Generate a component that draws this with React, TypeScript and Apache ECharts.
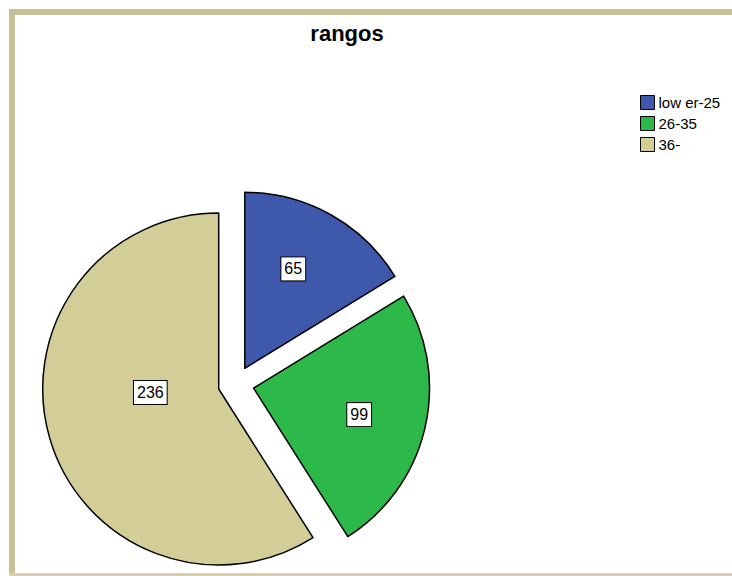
import React, { useEffect, useRef } from "react";
import * as echarts from "echarts";

const categories = ["low er-25", "26-35", "36-"];
const counts = [65, 99, 236];
const colors = ["#3e58ac", "#2db84a", "#d3ce97"];
const labelNudges = [
  [4, -20],
  [17, 6],
  [19, -22],
];

export default function App() {
  const ref = useRef<HTMLDivElement>(null);
  useEffect(() => {
    const chart = echarts.init(ref.current!, null, { renderer: "svg" });
    chart.setOption({
      animation: false,
      backgroundColor: "#ffffff",
      textStyle: { fontFamily: "Liberation Sans, Arial, sans-serif" },
      title: {
        text: "rangos",
        left: 342,
        textAlign: "center",
        top: 17,
        textStyle: { fontSize: 22, fontWeight: "bold", color: "#000", fontFamily: "Liberation Sans, Arial, sans-serif" },
      },
      legend: {
        orient: "vertical",
        left: 635,
        top: 90,
        itemWidth: 14,
        itemHeight: 14,
        itemGap: 6,
        icon: "rect",
        selectedMode: false,
        itemStyle: { borderColor: "#000", borderWidth: 1 },
        textStyle: { fontSize: 15, color: "#000", padding: [0, 0, 0, -1], fontFamily: "Liberation Sans, Arial, sans-serif" },
        data: categories,
      },
      graphic: [
        { type: "rect", shape: { x: 9, y: 9, width: 723, height: 6 }, style: { fill: "#c8c096" }, silent: true },
        { type: "rect", shape: { x: 9, y: 9, width: 6, height: 566 }, style: { fill: "#c8c096" }, silent: true },
        { type: "rect", shape: { x: 9, y: 573, width: 723, height: 3 }, style: { fill: "#d6d0b0" }, silent: true },
      ],
      series: [
        {
          type: "pie",
          center: [236, 384],
          radius: 176,
          startAngle: 90,
          clockwise: true,
          selectedMode: "multiple",
          selectedOffset: 18,
          emphasis: { disabled: true },
          itemStyle: { borderColor: "#000", borderWidth: 1.5 },
          label: {
            show: true,
            position: "inside",
            formatter: "{c}",
            fontSize: 16,
            color: "#000",
            backgroundColor: "#fff",
            borderColor: "#000",
            borderWidth: 1,
            padding: [4, 3, 3, 3],
            fontFamily: "Liberation Sans, Arial, sans-serif",
          },
          labelLayout: (params: any) => ({
            dx: labelNudges[params.dataIndex][0],
            dy: labelNudges[params.dataIndex][1],
          }),
          labelLine: { show: false },
          data: categories.map((name, i) => ({
            name,
            value: counts[i],
            selected: true,
            itemStyle: { color: colors[i] },
          })),
        },
      ],
    });
    return () => chart.dispose();
  }, []);
  return <div ref={ref} style={{ position: "absolute", left: 0, top: 0, width: 732, height: 576 }} />;
}
